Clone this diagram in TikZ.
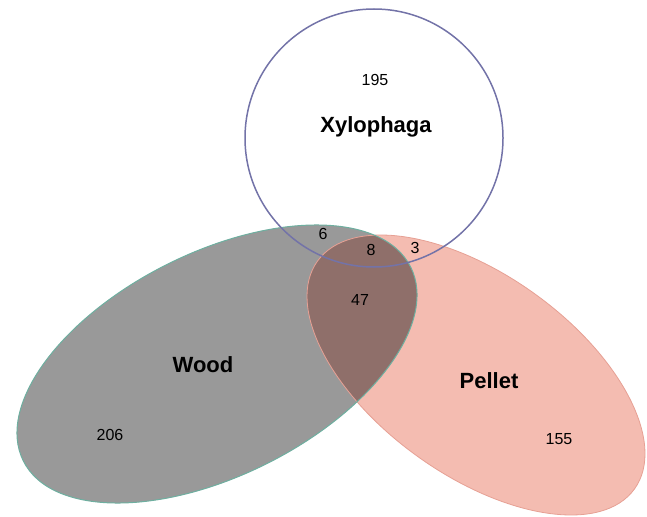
\documentclass[tikz,border=0pt]{standalone}
\usepackage{fontspec}
\setmainfont{Liberation Sans}
\definecolor{woodfill}{RGB}{153,153,153}
\definecolor{woodline}{RGB}{110,175,160}
\definecolor{pelfill}{RGB}{244,188,177}
\definecolor{pelline}{RGB}{230,160,148}
\definecolor{bothfill}{RGB}{143,111,106}
\definecolor{xyline}{RGB}{115,115,168}
\begin{document}
\begin{tikzpicture}[x=1pt,y=-1pt,
  num/.style={font=\fontsize{16}{18}\selectfont, inner sep=0pt},
  setlabel/.style={font=\fontsize{22}{24}\selectfont\bfseries, inner sep=0pt}]
\useasboundingbox (0,0) rectangle (647,516);
% Wood
\fill[woodfill] (217,364) ellipse [x radius=216.6, y radius=111.4, rotate=26.6];
% Pellet
\fill[pelfill] (476,375) ellipse [x radius=195.2, y radius=100.2, rotate=-35.7];
% Overlap
\begin{scope}
  \clip (217,364) ellipse [x radius=216.6, y radius=111.4, rotate=26.6];
  \fill[bothfill] (476,375) ellipse [x radius=195.2, y radius=100.2, rotate=-35.7];
\end{scope}
\draw[pelline, line width=0.8pt] (476,375) ellipse [x radius=195.2, y radius=100.2, rotate=-35.7];
\draw[woodline, line width=1pt] (217,364) ellipse [x radius=216.6, y radius=111.4, rotate=26.6];
% Xylophaga
\draw[xyline, line width=1.5pt] (374,138) circle [radius=129];
% labels
\node[num] (n195) at (375,80) {195};
\node[setlabel] (lx) at (376,127) {Xylophaga};
\node[num] (n6) at (323,234) {6};
\node[num] (n8) at (371,250) {8};
\node[num] (n3) at (415,248) {3};
\node[num] (n47) at (360,300) {47};
\node[setlabel] (lw) at (203,365) {Wood};
\node[num] (n206) at (110,435) {206};
\node[setlabel] (lp) at (489,381) {Pellet};
\node[num] (n155) at (559,439) {155};
\end{tikzpicture}
\end{document}
